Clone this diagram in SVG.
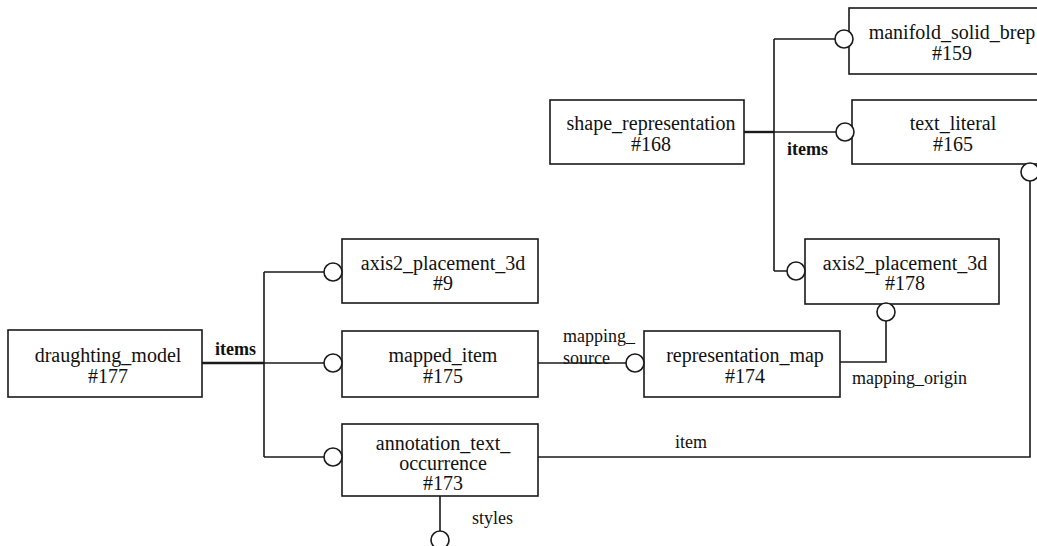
<svg xmlns="http://www.w3.org/2000/svg" width="1037" height="546" viewBox="0 0 1037 546" font-family="'Liberation Serif', 'Times New Roman', 'DejaVu Serif', serif">
<style>
.box{fill:#fff;stroke:#1a1a1a;stroke-width:1.6}
.t{font-size:20px;fill:#111;text-anchor:middle}
.l{font-size:18px;fill:#111}
.b{font-weight:bold}
.ln{fill:none;stroke:#1a1a1a;stroke-width:1.6}
.th{fill:none;stroke:#1a1a1a;stroke-width:2.4}
.c{fill:#fff;stroke:#1a1a1a;stroke-width:1.6}
</style>
<rect width="1037" height="546" fill="#fff"/>
<g id="connectors">
<path class="th" d="M202,363 H264"/>
<path class="ln" d="M264,272 V457 M264,272 H324 M264,363 H324 M264,457 H324"/>
<path class="ln" d="M538,363 H626"/>
<path class="ln" d="M840,362 H886 V321"/>
<path class="th" d="M744,132 H774"/>
<path class="ln" d="M774,39 V271 M774,39 H835 M774,132 H836 M774,271 H787"/>
<path class="ln" d="M1030,181 V457 H538"/>
<path class="ln" d="M440,496 V531"/>
<text class="l b" x="215" y="355">items</text>
<text class="l" x="563" y="342">mapping_</text>
<text class="l" x="563" y="364">source</text>
<text class="l" x="852" y="384">mapping_origin</text>
<text class="l b" x="787" y="155">items</text>
<text class="l" x="675" y="448">item</text>
<text class="l" x="472" y="524">styles</text>
</g>
<g id="n177"><rect class="box" x="8" y="330" width="194" height="67"/><text class="t" x="108" y="362">draughting_model</text><text class="t" x="108" y="383">#177</text></g>
<g id="n9"><rect class="box" x="342" y="239" width="196" height="64"/><text class="t" x="443" y="270">axis2_placement_3d</text><text class="t" x="443" y="290">#9</text></g>
<g id="n175"><rect class="box" x="342" y="331" width="196" height="66"/><text class="t" x="443" y="362">mapped_item</text><text class="t" x="443" y="383">#175</text></g>
<g id="n173"><rect class="box" x="342" y="424" width="196" height="72"/><text class="t" x="443" y="450">annotation_text_</text><text class="t" x="443" y="470">occurrence</text><text class="t" x="443" y="490">#173</text></g>
<g id="n174"><rect class="box" x="644" y="331" width="196" height="66"/><text class="t" x="745" y="362">representation_map</text><text class="t" x="745" y="383">#174</text></g>
<g id="n178"><rect class="box" x="805" y="239" width="194" height="65"/><text class="t" x="905" y="270">axis2_placement_3d</text><text class="t" x="905" y="290">#178</text></g>
<g id="n168"><rect class="box" x="550" y="100" width="194" height="64"/><text class="t" x="651" y="130">shape_representation</text><text class="t" x="651" y="151">#168</text></g>
<g id="n159"><rect class="box" x="849" y="8" width="210" height="66"/><text class="t" x="952" y="39">manifold_solid_brep</text><text class="t" x="952" y="60">#159</text></g>
<g id="n165"><rect class="box" x="852" y="100" width="210" height="64"/><text class="t" x="953" y="130">text_literal</text><text class="t" x="953" y="151">#165</text></g>
<g id="ends">
<circle class="c" cx="333" cy="272" r="9"/>
<circle class="c" cx="333" cy="363" r="9"/>
<circle class="c" cx="333" cy="457" r="9"/>
<circle class="c" cx="635" cy="363" r="9"/>
<circle class="c" cx="886" cy="312" r="9"/>
<circle class="c" cx="844" cy="39" r="9"/>
<circle class="c" cx="845" cy="132" r="9"/>
<circle class="c" cx="796" cy="271" r="9"/>
<circle class="c" cx="1030" cy="172" r="9"/>
<circle class="c" cx="440" cy="540" r="9"/>
</g>
</svg>
